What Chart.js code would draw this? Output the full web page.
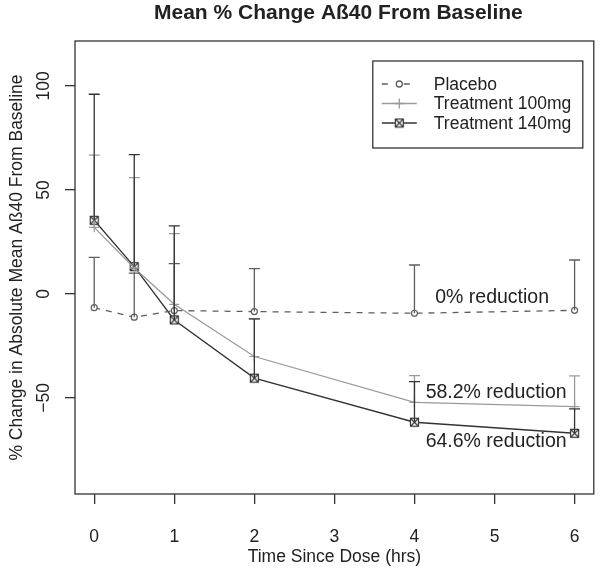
<!DOCTYPE html>
<html>
<head>
<meta charset="utf-8">
<title>Mean % Change Aß40 From Baseline</title>
<script src="https://cdn.jsdelivr.net/npm/chart.js@4.4.1/dist/chart.umd.min.js"></script>
<style>
  html, body { margin: 0; padding: 0; background: #fff; }
  #wrap { width: 600px; height: 574px; }
</style>
</head>
<body>
<div id="wrap"><canvas id="chart"></canvas></div>
<script>
// ── Data ──────────────────────────────────────────────────────────────────
const HOURS      = [0, 0.5, 1, 2, 4, 6];
const PLACEBO    = [-6.6, -11.2, -8.0, -8.5, -9.3, -7.9];
const PLACEBO_SD = [24.2, 21.2, 22.6, 20.7, 23.2, 24.2];   // upper error bar only
const DOSE100    = [32.0, 12.5, -5.0, -30.1, -52.1, -54.2];
const DOSE100_SD = [34.7, 43.4, 34.0, 18.1, 12.8, 14.8];
const DOSE140    = [35.4, 13.1, -12.5, -40.5, -61.7, -67.0];
const DOSE140_SD = [60.6, 53.9, 45.2, 28.5, 19.5, 11.7];

const X_TICKS = [0, 1, 2, 3, 4, 5, 6];
const Y_TICKS = [-50, 0, 50, 100];

const TITLE   = 'Mean % Change Aß40 From Baseline';
const X_TITLE = 'Time Since Dose (hrs)';
const Y_TITLE = '% Change in Absolute Mean Aß40 From Baseline';

const NOTE_TEXT = ['0% reduction', '58.2% reduction', '64.6% reduction'];
const NOTE_X    = [4.97, 5.02, 5.02];
const NOTE_Y    = [-1.9, -47.6, -71.2];

const FONT = '"Liberation Sans", Arial, Helvetica, sans-serif';
const INK  = '#222';

// ── Markers ───────────────────────────────────────────────────────────────
function boxCross(color) {
  const c = document.createElement('canvas');
  c.width = c.height = 11;
  const g = c.getContext('2d');
  g.fillStyle = '#fff';
  g.fillRect(1.5, 1.5, 8, 8);
  g.strokeStyle = color; g.lineWidth = 1.2;
  g.strokeRect(1.5, 1.5, 8, 8);
  g.beginPath();
  g.moveTo(1.5, 1.5); g.lineTo(9.5, 9.5);
  g.moveTo(9.5, 1.5); g.lineTo(1.5, 9.5);
  g.stroke();
  return c;
}
const MARK140 = boxCross('#333');

const SERIES = [
  { label: 'Placebo',          mean: PLACEBO, sd: PLACEBO_SD, color: '#5e5e5e', dash: [6, 6], point: 'circle', radius: 3 },
  { label: 'Treatment 100mg',  mean: DOSE100, sd: DOSE100_SD, color: '#9a9a9a', dash: [],    point: 'cross',  radius: 5 },
  { label: 'Treatment 140mg',  mean: DOSE140, sd: DOSE140_SD, color: '#333',    dash: [],    point: MARK140,  radius: 5 },
];

// ── Plugin: frame, error bars, title, legend, notes ───────────────────────
const rDecor = {
  id: 'rDecor',
  afterDatasetsDraw(chart) {
    const { ctx, chartArea: a, scales: { x, y } } = chart;
    ctx.save();
    // error bars (mean → mean + sd)
    SERIES.forEach(s => {
      ctx.strokeStyle = s.color; ctx.lineWidth = 1.3; ctx.setLineDash([]);
      HOURS.forEach((h, i) => {
        const px = x.getPixelForValue(h);
        const y0 = y.getPixelForValue(s.mean[i]);
        const y1 = y.getPixelForValue(s.mean[i] + s.sd[i]);
        ctx.beginPath();
        ctx.moveTo(px, y0); ctx.lineTo(px, y1);
        ctx.moveTo(px - 5.5, y1); ctx.lineTo(px + 5.5, y1);
        ctx.stroke();
      });
    });
    // frame
    ctx.strokeStyle = '#333'; ctx.lineWidth = 1.3;
    ctx.strokeRect(a.left, a.top, a.right - a.left, a.bottom - a.top);

    // title
    ctx.fillStyle = INK;
    ctx.textAlign = 'center'; ctx.textBaseline = 'middle';
    ctx.font = 'bold 21px ' + FONT;
    ctx.fillText(TITLE, (a.left + a.right) / 2 + 4, 13);

    // notes
    ctx.font = '19.5px ' + FONT;
    NOTE_TEXT.forEach((t, i) => {
      ctx.fillText(t, x.getPixelForValue(NOTE_X[i]), y.getPixelForValue(NOTE_Y[i]));
    });

    // legend
    const lw = 210, lh = 87;
    const lx = a.right - 11 - lw, ly = a.top + 20;
    ctx.fillStyle = '#fff';
    ctx.fillRect(lx, ly, lw, lh);
    ctx.strokeStyle = '#333'; ctx.lineWidth = 1.3;
    ctx.strokeRect(lx, ly, lw, lh);
    ctx.font = '17.5px ' + FONT;
    ctx.textAlign = 'left';
    SERIES.forEach((s, i) => {
      const ry = ly + 23 + i * 19.5;
      ctx.strokeStyle = s.color; ctx.lineWidth = 1.3;
      ctx.setLineDash(s.dash.length ? [6, 16] : []);
      ctx.beginPath();
      ctx.moveTo(lx + 9, ry); ctx.lineTo(lx + 44, ry);
      ctx.stroke();
      ctx.setLineDash([]);
      const cx = lx + 26.5;
      if (s.point === 'circle') {
        ctx.fillStyle = '#fff';
        ctx.beginPath(); ctx.arc(cx, ry, 3, 0, Math.PI * 2); ctx.fill(); ctx.stroke();
      } else if (s.point === 'cross') {
        ctx.beginPath();
        ctx.moveTo(cx - 5, ry); ctx.lineTo(cx + 5, ry);
        ctx.moveTo(cx, ry - 5); ctx.lineTo(cx, ry + 5);
        ctx.stroke();
      } else {
        ctx.drawImage(s.point, cx - 5.5, ry - 5.5);
      }
      ctx.fillStyle = INK;
      ctx.fillText(s.label, lx + 61, ry + 1);
    });
    ctx.restore();
  }
};

// ── Chart ─────────────────────────────────────────────────────────────────
const datasets = SERIES.map(s => ({
  label: s.label,
  data: HOURS.map((h, i) => ({ x: h, y: s.mean[i] })),
  showLine: true,
  borderColor: s.color,
  borderWidth: 1.3,
  borderDash: s.dash,
  pointStyle: s.point,
  pointRadius: s.radius,
  pointBorderColor: s.color,
  pointBackgroundColor: '#fff',
  pointBorderWidth: 1.2,
  tension: 0,
}));

new Chart(document.getElementById('chart').getContext('2d'), {
  type: 'scatter',
  data: { datasets },
  plugins: [rDecor],
  options: {
    responsive: true,
    maintainAspectRatio: false,
    animation: false,
    layout: { padding: { top: 41, right: 6, bottom: 0, left: 0 } },
    plugins: { legend: { display: false }, tooltip: { enabled: false }, title: { display: false } },
    scales: {
      x: {
        type: 'linear', min: -0.24, max: 6.24,
        afterBuildTicks: s => { s.ticks = X_TICKS.map(v => ({ value: v })); },
        afterFit: s => { s.height = 80; s.paddingLeft = 0; s.paddingRight = 0; },
        grid: { drawOnChartArea: false, drawTicks: true, tickLength: 10, tickColor: '#333', lineWidth: 1.3 },
        border: { display: false },
        ticks: { padding: 23, color: INK, font: { family: FONT, size: 17.5 }, maxRotation: 0 },
        title: { display: true, text: X_TITLE, color: INK, font: { family: FONT, size: 17.5 }, padding: { top: 0, bottom: 6 } },
      },
      y: {
        type: 'linear', min: -96.2, max: 121.6,
        afterBuildTicks: s => { s.ticks = Y_TICKS.map(v => ({ value: v })); },
        afterFit: s => { s.width = 75; s.paddingTop = 0; s.paddingBottom = 0; },
        grid: { drawOnChartArea: false, drawTicks: true, tickLength: 10, tickColor: '#333', lineWidth: 1.3 },
        border: { display: false },
        ticks: {
          padding: 6, crossAlign: 'center', minRotation: 90, maxRotation: 90,
          color: INK, font: { family: FONT, size: 17.5 },
          callback: v => String(v).replace('-', '\u2212'),
        },
        title: { display: true, text: Y_TITLE, color: INK, font: { family: FONT, size: 17.5 }, padding: { top: 6.5, bottom: 0 } },
      },
    },
  },
});
</script>
</body>
</html>
